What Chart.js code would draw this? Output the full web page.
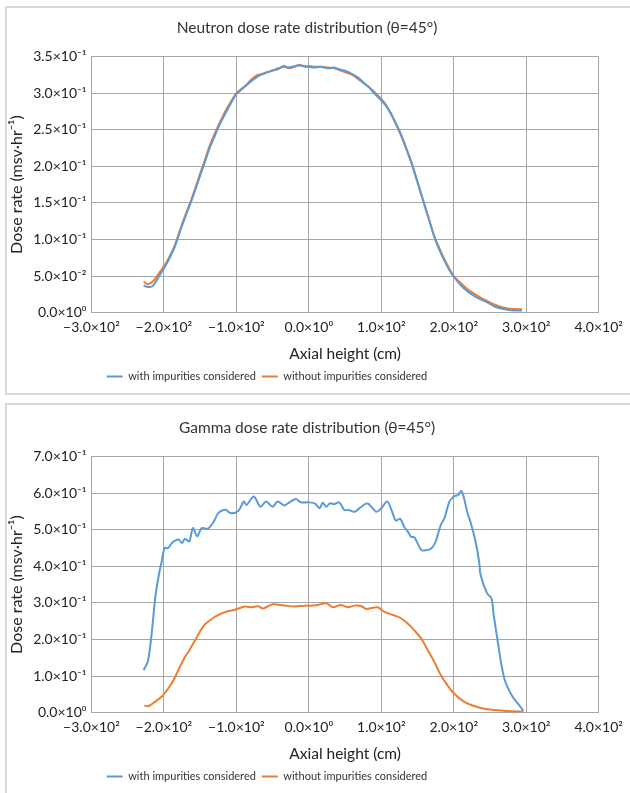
<!DOCTYPE html>
<html>
<head>
<meta charset="utf-8">
<script src="https://cdn.jsdelivr.net/npm/chart.js@4.4.1/dist/chart.umd.min.js"></script>
<style>
  html, body { margin: 0; padding: 0; background: #fff; overflow: hidden; }
  body { width: 630px; height: 793px; position: relative; }
  .panel { position: absolute; left: 5px; width: 640px; border: 2px solid #d9d9d9; box-sizing: border-box; }
  .wrap { position: absolute; left: 7px; width: 622px; height: 383px; }
</style>
</head>
<body>
<div class="panel" style="top:6px;height:389px"></div>
<div class="panel" style="top:403px;height:420px"></div>
<div class="wrap" style="top:9px"><canvas id="neutronChart"></canvas></div>
<div class="wrap" style="top:409px"><canvas id="gammaChart"></canvas></div>
<script>
// NEUTRON DATA (shared axial positions, cm)
const neutronX = [-228, -222, -216, -212, -206, -199, -192, -185, -176, -169, -162, -155, -148, -142, -137, -131, -125, -118, -111, -106, -100, -94, -88, -80, -72, -66, -60, -50, -42, -34, -28, -20, -13, -6, 0, 8, 16, 26, 35, 44, 52, 60, 67, 75, 83, 90, 100, 107, 113, 120, 127, 134, 141, 149, 157, 165, 173, 180, 187, 194, 200, 210, 219, 228, 237, 246, 255, 264, 274, 284, 294];
const neutronWith = [0.037, 0.035, 0.036, 0.041, 0.051, 0.062, 0.075, 0.090, 0.116, 0.135, 0.153, 0.173, 0.193, 0.210, 0.225, 0.239, 0.253, 0.267, 0.280, 0.289, 0.299, 0.304, 0.309, 0.316, 0.322, 0.325, 0.3275, 0.331, 0.334, 0.336, 0.335, 0.337, 0.338, 0.337, 0.336, 0.335, 0.336, 0.334, 0.335, 0.332, 0.330, 0.326, 0.322, 0.315, 0.308, 0.300, 0.290, 0.282, 0.273, 0.259, 0.244, 0.226, 0.207, 0.182, 0.156, 0.130, 0.104, 0.086, 0.071, 0.058, 0.049, 0.037, 0.029, 0.023, 0.018, 0.014, 0.009, 0.006, 0.004, 0.003, 0.003];
const neutronWithout = [0.042, 0.0387, 0.042, 0.0464, 0.055, 0.0646, 0.077, 0.092, 0.118, 0.137, 0.155, 0.175, 0.196, 0.213, 0.228, 0.242, 0.2555, 0.270, 0.2827, 0.291, 0.300, 0.305, 0.310, 0.318, 0.3245, 0.326, 0.328, 0.331, 0.333, 0.3375, 0.334, 0.336, 0.339, 0.336, 0.337, 0.336, 0.336, 0.335, 0.334, 0.331, 0.328, 0.325, 0.320, 0.314, 0.308, 0.302, 0.292, 0.283, 0.272, 0.258, 0.2425, 0.225, 0.206, 0.181, 0.155, 0.130, 0.105, 0.088, 0.073, 0.060, 0.050, 0.040, 0.032, 0.026, 0.0206, 0.016, 0.0114, 0.008, 0.0055, 0.0048, 0.0046];

// GAMMA DATA
const gammaWithX = [-228, -222, -217, -212, -207, -203, -199, -194, -189, -180, -175, -171, -165, -160, -154, -148, -139, -131, -125, -115, -108, -97, -90, -86, -76, -67, -59, -50, -43, -34, -29, -18, -11, -1, 8, 15, 19, 24, 29, 35, 42, 49, 55, 63, 70, 81, 93, 100, 108, 114, 120, 126, 132, 136, 141, 146, 155, 161, 169, 175, 182, 187, 194, 200, 206, 210, 213, 219, 223, 230, 235, 237, 246, 252, 255, 260, 265, 271, 281, 290, 296];
const gammaWith = [0.116, 0.141, 0.214, 0.314, 0.377, 0.414, 0.450, 0.450, 0.4636, 0.473, 0.4636, 0.4756, 0.468, 0.5045, 0.482, 0.5045, 0.503, 0.523, 0.5455, 0.5545, 0.5455, 0.552, 0.577, 0.568, 0.591, 0.563, 0.577, 0.563, 0.577, 0.566, 0.572, 0.584, 0.575, 0.575, 0.572, 0.559, 0.574, 0.563, 0.572, 0.570, 0.575, 0.554, 0.554, 0.549, 0.559, 0.572, 0.549, 0.559, 0.577, 0.554, 0.525, 0.530, 0.506, 0.497, 0.481, 0.4785, 0.445, 0.444, 0.449, 0.4675, 0.513, 0.531, 0.577, 0.591, 0.595, 0.606, 0.595, 0.545, 0.522, 0.468, 0.413, 0.376, 0.326, 0.3125, 0.267, 0.203, 0.139, 0.085, 0.044, 0.021, 0.0046];
const gammaWithoutX = [-227, -221, -212, -203, -198, -192, -186, -178, -171, -165, -155, -145, -137, -128, -115, -101, -88, -79, -70, -63, -50, -34, -20, -6, 0, 12, 24, 33, 44, 54, 63, 72, 79, 86, 95, 104, 116, 127, 136, 145, 155, 164, 173, 182, 191, 200, 214, 228, 246, 274, 296];
const gammaWithout = [0.019, 0.018, 0.030, 0.044, 0.0556, 0.072, 0.092, 0.125, 0.152, 0.170, 0.205, 0.238, 0.252, 0.264, 0.2755, 0.282, 0.290, 0.288, 0.2906, 0.285, 0.296, 0.293, 0.290, 0.2925, 0.2925, 0.2945, 0.299, 0.288, 0.2945, 0.288, 0.2925, 0.2917, 0.2835, 0.286, 0.288, 0.276, 0.267, 0.258, 0.244, 0.226, 0.203, 0.171, 0.139, 0.103, 0.0756, 0.053, 0.030, 0.018, 0.009, 0.0046, 0.0027];

const seriesNames = ["with impurities considered", "without impurities considered"];
const seriesColors = ["#5b9bd5", "#ed7d31"];

const FONT = "Lato, 'Noto Sans', sans-serif";
const SUP = { "0": "⁰", "1": "¹", "2": "²", "3": "³", "4": "⁴", "5": "⁵", "6": "⁶", "7": "⁷", "8": "⁸", "9": "⁹", "-": "⁻" };

// format like 3.5×10⁻¹
function sci(v) {
    if (Math.abs(v) < 1e-9) return "0.0×10⁰";
    let e = Math.floor(Math.log10(Math.abs(v)) + 1e-9);
    let m = Math.abs(v) / Math.pow(10, e);
    let exp = String(e).split("").map(c => SUP[c]).join("");
    return (v < 0 ? "−" : "") + m.toFixed(1) + "×10" + exp;
}

function pts(xs, ys) {
    return xs.map((x, i) => ({ x: x, y: ys[i] }));
}

// legend in the original sits left of centre
const legendShift = {
    id: "legendShift",
    afterLayout(chart) {
        if (chart.legend) chart.legend.right -= 80;
    }
};

function makeChart(id, title, withData, withoutData, yMax, yStep) {
    const ctx = document.getElementById(id);
    new Chart(ctx, {
        type: "scatter",
        data: {
            datasets: [
                {
                    label: seriesNames[0],
                    data: withData,
                    showLine: true,
                    borderColor: seriesColors[0],
                    backgroundColor: seriesColors[0],
                    borderWidth: 2,
                    pointRadius: 0,
                    tension: 0.3
                },
                {
                    label: seriesNames[1],
                    data: withoutData,
                    showLine: true,
                    borderColor: seriesColors[1],
                    backgroundColor: seriesColors[1],
                    borderWidth: 2,
                    pointRadius: 0,
                    tension: 0.3
                }
            ]
        },
        plugins: [legendShift],
        options: {
            responsive: true,
            maintainAspectRatio: false,
            animation: false,
            layout: { padding: { left: 0, right: 22, top: 4, bottom: 0 } },
            plugins: {
                title: {
                    display: true,
                    text: title,
                    color: "#333",
                    font: { family: FONT, size: 15.5, weight: "normal" },
                    padding: { top: 6, bottom: 19 }
                },
                legend: {
                    position: "bottom",
                    labels: {
                        color: "#333",
                        font: { family: FONT, size: 11 },
                        usePointStyle: true,
                        pointStyle: "line",
                        pointStyleWidth: 16,
                        boxHeight: 2,
                        padding: 6
                    }
                },
                tooltip: { enabled: false }
            },
            scales: {
                x: {
                    type: "linear",
                    min: -300,
                    max: 400,
                    ticks: {
                        stepSize: 100,
                        color: "#222",
                        font: { family: FONT, size: 14 },
                        padding: 6,
                        maxRotation: 0,
                        callback: v => sci(v)
                    },
                    grid: { color: "#a6a6a6", drawTicks: false },
                    border: { color: "#a6a6a6" },
                    title: {
                        display: true,
                        text: "Axial height (cm)",
                        color: "#222",
                        font: { family: FONT, size: 15.5 },
                        padding: { top: 3, bottom: 2 }
                    }
                },
                y: {
                    min: 0,
                    max: yMax,
                    ticks: {
                        stepSize: yStep,
                        color: "#222",
                        font: { family: FONT, size: 14 },
                        padding: 5,
                        callback: v => sci(v)
                    },
                    grid: { color: "#a6a6a6", drawTicks: false },
                    border: { color: "#a6a6a6" },
                    title: {
                        display: true,
                        text: "Dose rate (msv·hr⁻¹)",
                        color: "#222",
                        font: { family: FONT, size: 16 },
                        padding: { top: 0, bottom: 2 }
                    }
                }
            }
        }
    });
}

window.onload = function () {
    makeChart("neutronChart", "Neutron dose rate distribution (θ=45°)",
        pts(neutronX, neutronWith), pts(neutronX, neutronWithout), 0.35, 0.05);
    makeChart("gammaChart", "Gamma dose rate distribution (θ=45°)",
        pts(gammaWithX, gammaWith), pts(gammaWithoutX, gammaWithout), 0.7, 0.1);
};
</script>
</body>
</html>
